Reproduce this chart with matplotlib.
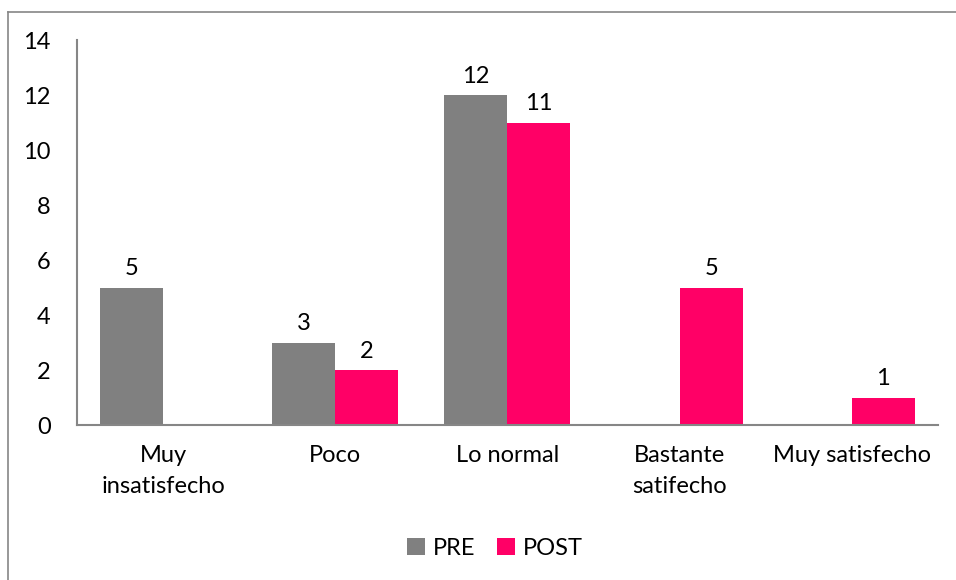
import numpy as np
import matplotlib.pyplot as plt
from matplotlib.lines import Line2D

# datos
categorias = ['Muy\ninsatisfecho', 'Poco', 'Lo normal', 'Bastante\nsatifecho', 'Muy satisfecho']
pre = [5, 3, 12, 0, 0]
post = [0, 2, 11, 5, 1]

plt.rcParams['font.family'] = ['Lato', 'DejaVu Sans']
fs = 17

fig = plt.figure(figsize=(9.56, 5.80), dpi=100)
ax = fig.add_axes([0.0805, 0.267, 0.9005, 0.664])

x = np.arange(len(categorias))
w = 0.366
b1 = ax.bar(x - w / 2, pre, w, color='#808080', label='PRE')
b2 = ax.bar(x + w / 2, post, w, color='#FF0066', label='POST')

# etiquetas solo donde hay valor
for bars, vals in ((b1, pre), (b2, post)):
    for rect, v in zip(bars, vals):
        if v == 0:
            continue
        ax.annotate(str(v), (rect.get_x() + rect.get_width() / 2, v),
                    xytext=(0, 6), textcoords='offset points',
                    ha='center', va='bottom', fontsize=fs)

ax.set_xlim(-0.5, len(categorias) - 0.5)
ax.set_ylim(0, 14)
ax.set_yticks(range(0, 15, 2))
ax.set_xticks(x)
ax.set_xticklabels(categorias, fontsize=fs, linespacing=1.6)
ax.tick_params(axis='y', length=0, pad=19, labelsize=fs)
ax.tick_params(axis='x', length=0, pad=14)

for s in ('top', 'right'):
    ax.spines[s].set_visible(False)
for s in ('left', 'bottom'):
    ax.spines[s].set_color('#868686')
    ax.spines[s].set_linewidth(1.5)

ax.legend(loc='center', bbox_to_anchor=(0.518, 0.055), bbox_transform=fig.transFigure,
          ncol=2, frameon=False, fontsize=fs, handlelength=0.75, handleheight=0.75,
          handletextpad=0.35, columnspacing=0.9)

# marco exterior (solo visible arriba e izquierda)
fig.add_artist(Line2D([0.0085, 0.0085], [0, 0.979], color='#868686', lw=1.2))
fig.add_artist(Line2D([0.0085, 1.0], [0.979, 0.979], color='#868686', lw=1.2))

fig.savefig('out.png', dpi=100)
